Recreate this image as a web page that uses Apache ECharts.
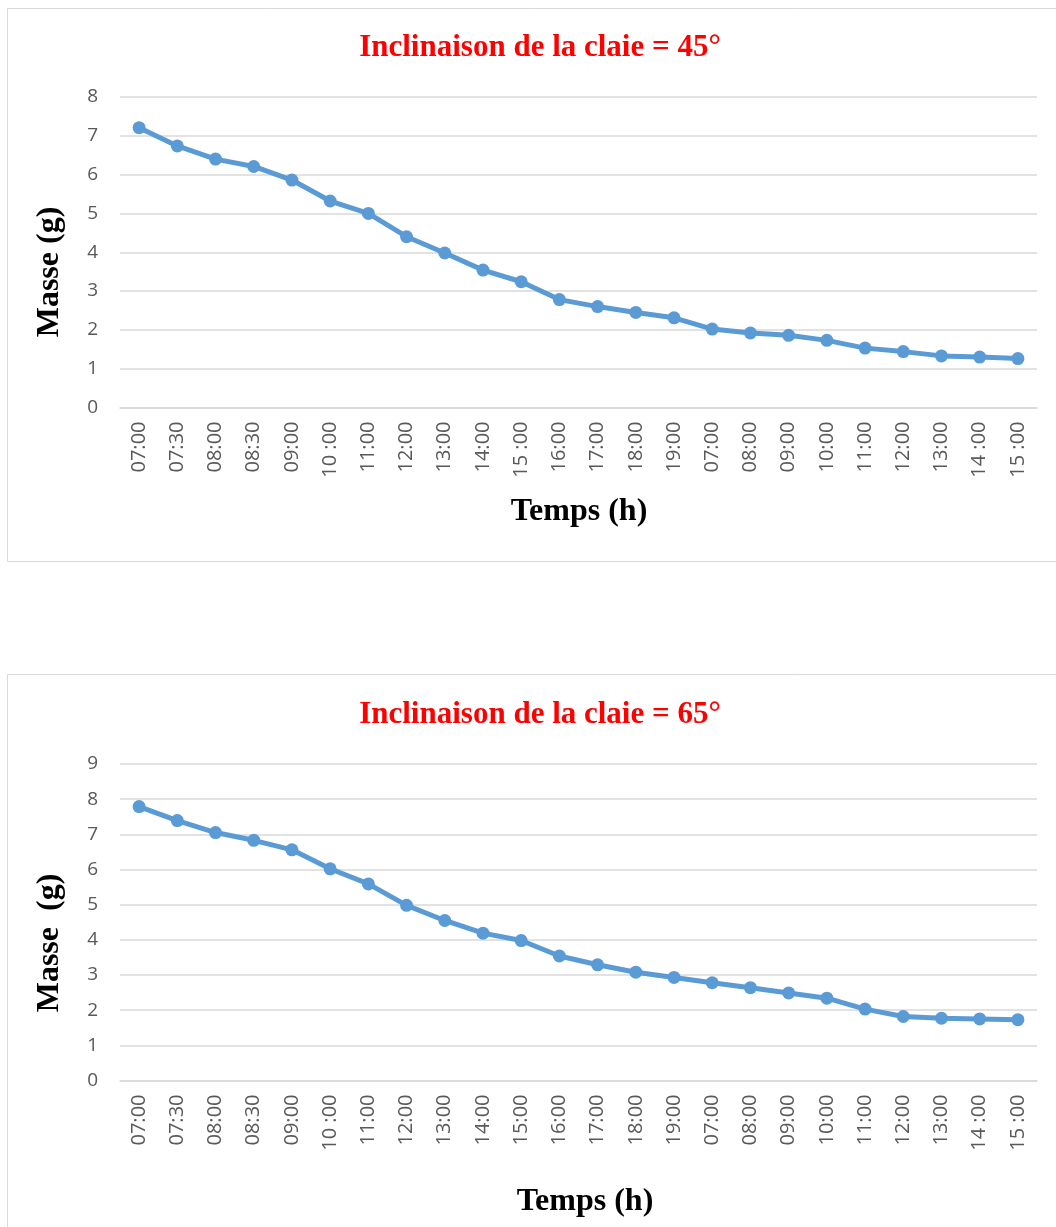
<!DOCTYPE html>
<html>
<head>
<meta charset="utf-8">
<script src="https://cdn.jsdelivr.net/npm/echarts@6/dist/echarts.min.js"></script>
<style>
html,body{margin:0;padding:0;background:#fff;}
#chart{width:1056px;height:1227px;}
</style>
</head>
<body>
<div id="chart"></div>
<script>
// ---- data ----
var timeLabels45 = ['07:00','07:30','08:00','08:30','09:00','10 :00','11:00','12:00','13:00','14:00','15 :00','16:00','17:00','18:00','19:00','07:00','08:00','09:00','10:00','11:00','12:00','13:00','14 :00','15 :00'];
var timeLabels65 = ['07:00','07:30','08:00','08:30','09:00','10 :00','11:00','12:00','13:00','14:00','15:00','16:00','17:00','18:00','19:00','07:00','08:00','09:00','10:00','11:00','12:00','13:00','14 :00','15 :00'];
var masse45 = [7.21,6.74,6.40,6.21,5.86,5.32,5.00,4.40,3.98,3.54,3.24,2.78,2.60,2.45,2.31,2.02,1.92,1.86,1.73,1.53,1.44,1.33,1.30,1.26];
var masse65 = [7.79,7.39,7.05,6.83,6.56,6.02,5.59,4.98,4.55,4.19,3.98,3.54,3.29,3.08,2.93,2.78,2.64,2.49,2.34,2.03,1.82,1.77,1.75,1.73];
var yMax45 = 8, yMax65 = 9;
var title45 = 'Inclinaison de la claie = 45°';
var title65 = 'Inclinaison de la claie = 65°';
var xName = 'Temps (h)';
var yName45 = 'Masse (g)';
var yName65 = 'Masse  (g)';

var serif = '"Liberation Serif","Times New Roman",serif';
var sans = '"Open Sans","Noto Sans",sans-serif';
var lineColor = '#5b9bd5';
var gridColor = '#d9d9d9';

function xAxisCfg(gridIndex, labels) {
  return {
    type: 'category', gridIndex: gridIndex, data: labels, boundaryGap: true,
    axisLine: {show: true, lineStyle: {color: gridColor, width: 1.5}},
    axisTick: {show: false},
    axisLabel: {rotate: 90, margin: 14, color: '#595959', fontFamily: sans, fontSize: 20, interval: 0}
  };
}
function yAxisCfg(gridIndex, max) {
  return {
    type: 'value', gridIndex: gridIndex, min: 0, max: max, interval: 1,
    axisLine: {show: false}, axisTick: {show: false},
    splitLine: {show: true, lineStyle: {color: gridColor, width: 1.5}},
    axisLabel: {margin: 22, color: '#595959', fontFamily: sans, fontSize: 19}
  };
}
function seriesCfg(idx, data) {
  return {
    type: 'line', xAxisIndex: idx, yAxisIndex: idx, data: data,
    symbol: 'circle', symbolSize: 13, smooth: false,
    lineStyle: {color: lineColor, width: 5},
    itemStyle: {color: lineColor},
    animation: false
  };
}
function txt(text, x, y, rot) {
  return {
    type: 'text', x: x, y: y, rotation: rot || 0, silent: true,
    style: {text: text, font: 'bold 32px ' + serif, fill: '#000', align: 'center', verticalAlign: 'middle'}
  };
}
function ttl(text, x, y) {
  return {
    type: 'text', x: x, y: y, silent: true,
    style: {text: text, font: 'bold 31px ' + serif, fill: '#ff0000', align: 'center', verticalAlign: 'middle'}
  };
}

var chart = echarts.init(document.getElementById('chart'), null, {renderer: 'canvas'});
chart.setOption({
  animation: false,
  backgroundColor: '#fff',
  grid: [
    {left: 120, width: 917, top: 97, height: 310.5},
    {left: 120, width: 917, top: 764, height: 316.5}
  ],
  xAxis: [xAxisCfg(0, timeLabels45), xAxisCfg(1, timeLabels65)],
  yAxis: [yAxisCfg(0, yMax45), yAxisCfg(1, yMax65)],
  series: [seriesCfg(0, masse45), seriesCfg(1, masse65)],
  graphic: [
    {type: 'rect', silent: true, shape: {x: 7.5, y: 8.5, width: 1050, height: 553}, style: {fill: null, stroke: gridColor, lineWidth: 1}},
    {type: 'rect', silent: true, shape: {x: 7.5, y: 674.5, width: 1050, height: 600}, style: {fill: null, stroke: gridColor, lineWidth: 1}},
    ttl(title45, 540, 48),
    ttl(title65, 540, 715),
    txt(xName, 579, 512),
    txt(xName, 585, 1202),
    txt(yName45, 50, 272, Math.PI / 2),
    txt(yName65, 50, 943, Math.PI / 2)
  ]
});
</script>
</body>
</html>
